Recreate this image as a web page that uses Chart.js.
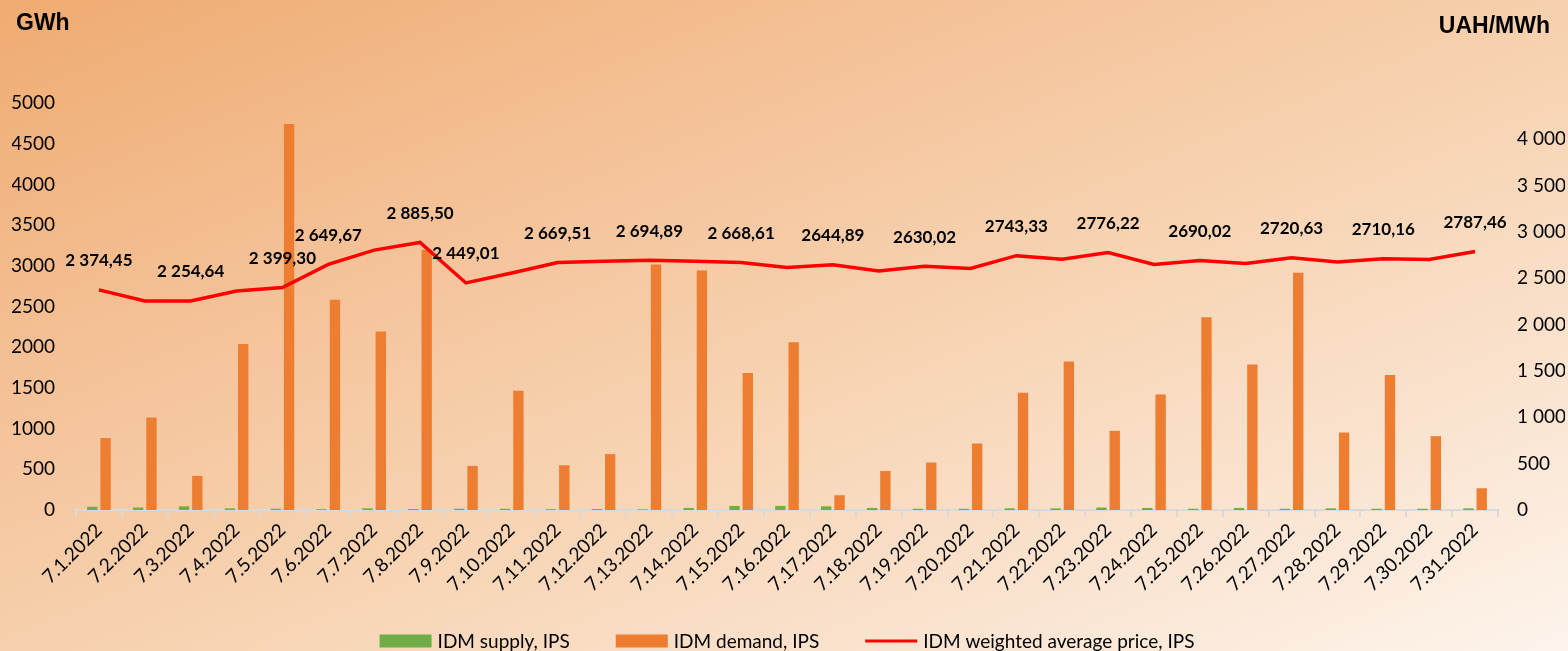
<!DOCTYPE html>
<html>
<head>
<meta charset="utf-8">
<script src="https://cdn.jsdelivr.net/npm/chart.js@4.4.1/dist/chart.umd.min.js"></script>
<style>
  html, body { margin: 0; padding: 0; }
  #wrap {
    width: 1568px; height: 651px;
    background: linear-gradient(to bottom right, #efab71 0%, #f4c197 30%, #f7d3b2 55%, #fae3cf 78%, #fdf4ec 100%);
  }
</style>
</head>
<body>
<div id="wrap"><canvas id="chart" width="1568" height="651"></canvas></div>
<script>
const days = ['7.1.2022', '7.2.2022', '7.3.2022', '7.4.2022', '7.5.2022', '7.6.2022', '7.7.2022', '7.8.2022',
  '7.9.2022', '7.10.2022', '7.11.2022', '7.12.2022', '7.13.2022', '7.14.2022', '7.15.2022', '7.16.2022',
  '7.17.2022', '7.18.2022', '7.19.2022', '7.20.2022', '7.21.2022', '7.22.2022', '7.23.2022', '7.24.2022',
  '7.25.2022', '7.26.2022', '7.27.2022', '7.28.2022', '7.29.2022', '7.30.2022', '7.31.2022'];

// GWh
const supply = [40, 30, 45, 20, 15, 10, 20, 12, 15, 15, 10, 12, 8, 25, 50, 50,
  45, 25, 15, 15, 20, 20, 30, 25, 15, 25, 15, 20, 15, 15, 20];
const demand = [883, 1137, 419, 2040, 4741, 2582, 2192, 3198, 542, 1466, 550, 686, 3017, 2943, 1683, 2061,
  181, 480, 583, 817, 1441, 1823, 973, 1420, 2368, 1786, 2915, 952, 1659, 907, 267];

// UAH/MWh
const price = [2374.45, 2254, 2254.64, 2363, 2399.30, 2649.67, 2803, 2885.50, 2449.01, 2557, 2669.51, 2684,
  2694.89, 2684, 2668.61, 2616, 2644.89, 2579, 2630.02, 2605, 2743.33, 2706, 2776.22, 2648,
  2690.02, 2659, 2720.63, 2676, 2710.16, 2702, 2787.46];
const priceLabels = ['2 374,45', null, '2 254,64', null, '2 399,30', '2 649,67', null, '2 885,50', '2 449,01', null,
  '2 669,51', null, '2 694,89', null, '2 668,61', null, '2644,89', null, '2630,02', null, '2743,33', null,
  '2776,22', null, '2690,02', null, '2720,63', null, '2710,16', null, '2787,46'];

// axis ticks
const leftTicks = [0, 500, 1000, 1500, 2000, 2500, 3000, 3500, 4000, 4500, 5000];
const rightTicks = [0, 500, 1000, 1500, 2000, 2500, 3000, 3500, 4000];

const fontFam = 'Lato, "Open Sans", sans-serif';

// value labels above the price line
const priceLabelPlugin = {
  id: 'priceLabels',
  afterDatasetsDraw(chart) {
    const ctx = chart.ctx;
    const meta = chart.getDatasetMeta(2);
    ctx.save();
    ctx.font = 'bold 17px ' + fontFam;
    ctx.fillStyle = '#000';
    ctx.textAlign = 'center';
    ctx.textBaseline = 'middle';
    meta.data.forEach((pt, i) => {
      if (priceLabels[i]) ctx.fillText(priceLabels[i], pt.x, pt.y - 29);
    });
    ctx.restore();
  }
};

// unit titles and legend along the bottom
const extrasPlugin = {
  id: 'extras',
  afterDraw(chart) {
    const ctx = chart.ctx;
    ctx.save();
    ctx.fillStyle = '#000';
    ctx.font = 'bold 23px "Liberation Sans", Arial, sans-serif';
    ctx.textBaseline = 'middle';
    ctx.textAlign = 'left';
    ctx.fillText('GWh', 16, 24);
    ctx.textAlign = 'right';
    ctx.fillText('UAH/MWh', 1550, 27);

    ctx.font = '19px ' + fontFam;
    ctx.textAlign = 'left';
    const boxW = 52, gapText = 6, gapItem = 46;
    const items = chart.data.datasets.map(ds => ({ ds, w: ctx.measureText(ds.label).width }));
    const total = items.reduce((s, it) => s + boxW + gapText + it.w, 0) + gapItem * (items.length - 1);
    const area = chart.chartArea;
    let x = (area.left + area.right) / 2 - total / 2;
    const y = 641;
    items.forEach(it => {
      if (it.ds.type === 'line') {
        ctx.strokeStyle = it.ds.borderColor;
        ctx.lineWidth = 3;
        ctx.beginPath();
        ctx.moveTo(x, y);
        ctx.lineTo(x + boxW, y);
        ctx.stroke();
      } else {
        ctx.fillStyle = it.ds.backgroundColor;
        ctx.fillRect(x, y - 6.5, boxW, 13);
      }
      ctx.fillStyle = '#000';
      ctx.fillText(it.ds.label, x + boxW + gapText, y + 1);
      x += boxW + gapText + it.w + gapItem;
    });
    ctx.restore();
  }
};

const spaced = v => String(v).replace(/\B(?=(\d{3})+(?!\d))/g, ' ');

new Chart(document.getElementById('chart'), {
  data: {
    labels: days,
    datasets: [
      {
        type: 'bar', label: 'IDM supply, IPS', data: supply, yAxisID: 'y',
        backgroundColor: '#70ad47', order: 1,
        categoryPercentage: 0.58, barPercentage: 0.78
      },
      {
        type: 'bar', label: 'IDM demand, IPS', data: demand, yAxisID: 'y',
        backgroundColor: '#ed7d31', order: 1,
        categoryPercentage: 0.58, barPercentage: 0.78
      },
      {
        type: 'line', label: 'IDM weighted average price, IPS', data: price, yAxisID: 'y1',
        borderColor: '#ff0000', backgroundColor: '#ff0000', borderWidth: 3.5,
        pointRadius: 0, tension: 0, order: 0
      }
    ]
  },
  options: {
    responsive: false,
    devicePixelRatio: 1,
    animation: false,
    layout: { padding: { top: 103, left: 12, right: 3, bottom: 53 } },
    plugins: {
      legend: { display: false },
      tooltip: { enabled: false }
    },
    scales: {
      x: {
        offset: true,
        afterFit: axis => { axis.paddingLeft = 0; axis.paddingRight = 0; },
        grid: { display: true, drawOnChartArea: false, drawTicks: true, tickLength: 7, color: '#d9d9d9', lineWidth: 2 },
        border: { display: true, color: '#d9d9d9', width: 2 },
        ticks: {
          autoSkip: false, maxRotation: 45, minRotation: 45, padding: 2,
          color: '#000', font: { family: fontFam, size: 19 }
        }
      },
      y: {
        position: 'left', min: 0, max: 5000,
        grid: { display: false, drawTicks: false },
        border: { display: false },
        afterBuildTicks: axis => { axis.ticks = leftTicks.map(v => ({ value: v })); },
        afterFit: axis => { axis.width = 64; },
        ticks: {
          autoSkip: false, padding: 21, color: '#000', font: { family: fontFam, size: 19 },
          callback: v => String(v)
        }
      },
      y1: {
        position: 'right', min: 0, max: 4390,
        grid: { display: false, drawTicks: false },
        border: { display: false },
        afterBuildTicks: axis => { axis.ticks = rightTicks.map(v => ({ value: v })); },
        afterFit: axis => { axis.width = 67; },
        ticks: {
          autoSkip: false, padding: 19, color: '#000', font: { family: fontFam, size: 19 },
          callback: v => spaced(v)
        }
      }
    }
  },
  plugins: [priceLabelPlugin, extrasPlugin]
});
</script>
</body>
</html>
